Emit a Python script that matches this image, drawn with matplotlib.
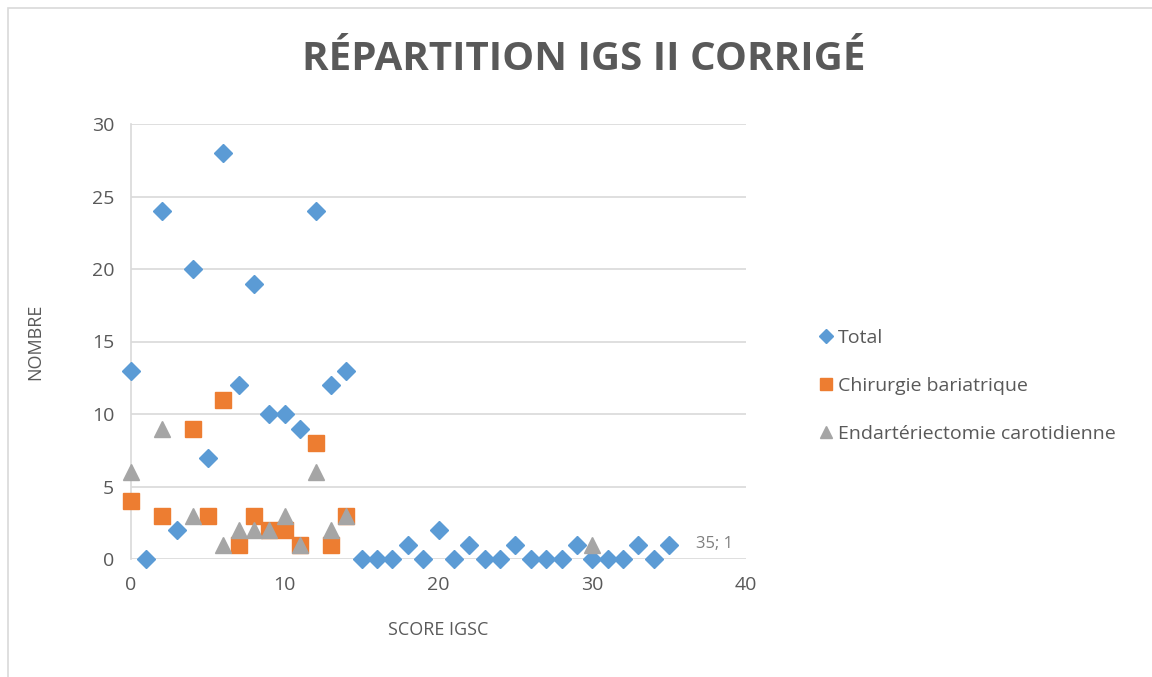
import matplotlib.pyplot as plt
from matplotlib.patches import Rectangle

# region data
total_x = list(range(0, 36))
total_y = [13, 0, 24, 2, 20, 7, 28, 12, 19, 10, 10, 9, 24, 12, 13, 0, 0, 0,
           1, 0, 2, 0, 1, 0, 0, 1, 0, 0, 0, 1, 0, 0, 0, 1, 0, 1]

bari_x = [0, 2, 4, 5, 6, 7, 8, 9, 10, 11, 12, 13, 14]
bari_y = [4, 3, 9, 3, 11, 1, 3, 2, 2, 1, 8, 1, 3]

carot_x = [0, 2, 4, 6, 7, 8, 9, 10, 11, 12, 13, 14, 30]
carot_y = [6, 9, 3, 1, 2, 2, 2, 3, 1, 6, 2, 3, 1]

labels = ["Total", "Chirurgie bariatrique", "Endartériectomie carotidienne"]
# endregion

plt.rcParams['font.family'] = ['Open Sans', 'DejaVu Sans']
txt = "#595959"

fig = plt.figure(figsize=(11.52, 6.77), dpi=100)
W, H = 1152, 677
# chart border like the office frame
fig.patches.append(Rectangle((8 / W, -0.1), 1.2, (677 - 8) / H + 0.1,
                             transform=fig.transFigure, fill=False,
                             edgecolor="#d9d9d9", linewidth=1.2))

ax = fig.add_axes([131 / W, 1 - 559 / H, (746 - 131) / W, (559 - 124) / H])

ax.plot(total_x, total_y, "D", color="#5B9BD5", markersize=9, label=labels[0],
        zorder=3)
ax.plot(bari_x, bari_y, "s", color="#ED7D31", markersize=11, label=labels[1],
        zorder=3)
ax.plot(carot_x, carot_y, "^", color="#A5A5A5", markersize=11, label=labels[2],
        zorder=4)

ax.annotate("35; 1", (total_x[-1], total_y[-1]), xytext=(19, 0),
            textcoords="offset points", va="center", ha="left",
            fontsize=12, color="#7f7f7f")

ax.set_xlim(0, 40)
ax.set_ylim(0, 30)
ax.set_xticks(range(0, 41, 10))
ax.set_yticks(range(0, 31, 5))
ax.grid(axis="y", color="#d9d9d9", linewidth=1.2)
ax.set_axisbelow(True)
for s in ["top", "right", "bottom"]:
    ax.spines[s].set_visible(False)
ax.spines["left"].set_color("#d9d9d9")
ax.spines["left"].set_linewidth(1.2)
ax.tick_params(length=0, labelsize=14, colors=txt, pad=12)
for line in ax.lines:
    line.set_clip_on(False)

ax.set_xlabel("SCORE IGSC", fontsize=13, color=txt, labelpad=20)
ax.set_ylabel("NOMBRE", fontsize=13, color=txt, labelpad=34)

fig.text(0.507, 1 - 60 / H, "RÉPARTITION IGS II CORRIGÉ", ha="center",
         va="center", fontsize=29, fontweight="bold", color=txt)

leg = fig.legend(loc="center left", bbox_to_anchor=(797 / W, 1 - 386 / H),
                 frameon=False, fontsize=14, labelspacing=1.55,
                 handletextpad=0.0, handlelength=1.2, markerscale=0.8)
for t in leg.get_texts():
    t.set_color(txt)

fig.savefig("out.png", dpi=100)
